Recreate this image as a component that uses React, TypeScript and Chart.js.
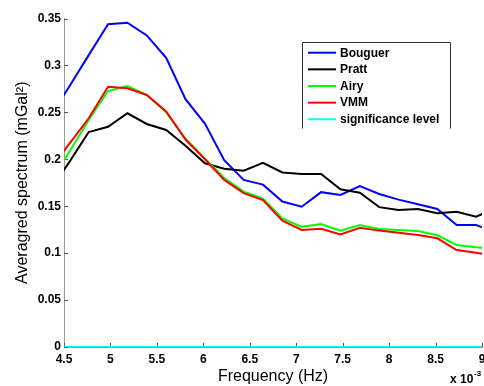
import React, { useEffect, useRef } from "react";
import { Chart, registerables } from "chart.js";

Chart.register(...registerables);

// Frequency (x 10^-3 Hz)
const freq = [4.349, 4.557, 4.766, 4.974, 5.183, 5.391, 5.6, 5.808, 6.017, 6.225, 6.434, 6.642, 6.851, 7.059, 7.268, 7.476, 7.685, 7.893, 8.102, 8.31, 8.519, 8.727, 8.936, 9.144];

const bouguer = [0.2445, 0.2776, 0.311, 0.344, 0.3455, 0.332, 0.308, 0.264, 0.238, 0.199, 0.178, 0.173, 0.155, 0.1495, 0.165, 0.162, 0.1715, 0.163, 0.157, 0.152, 0.147, 0.13, 0.13, 0.122];
const pratt = [0.167, 0.197, 0.229, 0.2347, 0.249, 0.2376, 0.2312, 0.2145, 0.1957, 0.19, 0.1878, 0.1963, 0.186, 0.1843, 0.1843, 0.168, 0.1644, 0.149, 0.146, 0.147, 0.1424, 0.144, 0.1388, 0.148];
const airy = [0.175, 0.208, 0.2418, 0.2727, 0.278, 0.2685, 0.25, 0.222, 0.201, 0.18, 0.1655, 0.158, 0.137, 0.128, 0.131, 0.124, 0.13, 0.1257, 0.1247, 0.1236, 0.119, 0.1087, 0.1062, 0.105];
const vmm = [0.189, 0.2165, 0.2437, 0.2773, 0.2756, 0.2685, 0.251, 0.221, 0.2, 0.178, 0.164, 0.1566, 0.1346, 0.1247, 0.126, 0.12, 0.127, 0.124, 0.1218, 0.1193, 0.1158, 0.1033, 0.1005, 0.097];

const sigFreq = [4.5, 9];
const sigLevel = [0, 0];

const seriesLabels = ["Bouguer", "Pratt", "Airy", "VMM", "significance level"];
const seriesColors = ["#0000ff", "#000000", "#00ff00", "#ff0000", "#00ffff"];

const xTitle = "Frequency (Hz)";
const yTitle = "Averagred spectrum (mGal\u00B2)";
const xExpBase = "x 10";
const xExpPow = "-3";

const FONT = '"Liberation Sans", Arial, Helvetica, sans-serif';

const fmt = (v: number) => String(Number(v.toFixed(4)));

export default function App() {
  const ref = useRef<HTMLCanvasElement>(null);

  useEffect(() => {
    const canvas = ref.current;
    if (!canvas) return;
    const pts = (xs: number[], ys: number[]) => xs.map((x, i) => ({ x, y: ys[i] }));
    const allSeries = [pts(freq, bouguer), pts(freq, pratt), pts(freq, airy), pts(freq, vmm), pts(sigFreq, sigLevel)];

    const extras = {
      id: "extras",
      beforeDatasetsDraw(chart: any) {
        const { ctx, chartArea } = chart;
        const xs = chart.scales.x;
        const ys = chart.scales.y;
        ctx.save();
        ctx.strokeStyle = "#555";
        ctx.lineWidth = 1;
        ctx.beginPath();
        ys.ticks.forEach((t: any) => {
          const py = Math.round(ys.getPixelForValue(t.value)) + 0.5;
          ctx.moveTo(chartArea.left, py);
          ctx.lineTo(chartArea.left + 4, py);
        });
        xs.ticks.forEach((t: any) => {
          const px = Math.round(xs.getPixelForValue(t.value)) + 0.5;
          ctx.moveTo(px, chartArea.bottom);
          ctx.lineTo(px, chartArea.bottom - 4);
        });
        ctx.stroke();
        ctx.restore();
      },
      afterDraw(chart: any) {
        const { ctx } = chart;
        ctx.save();
        // legend box
        const bx = 302.5, by = 42.5, bw = 148, bh = 86;
        ctx.fillStyle = "#fff";
        ctx.fillRect(bx, by, bw, bh);
        ctx.strokeStyle = "#333";
        ctx.lineWidth = 1;
        ctx.beginPath();
        ctx.moveTo(bx, by + bh);
        ctx.lineTo(bx, by);
        ctx.lineTo(bx + bw, by);
        ctx.lineTo(bx + bw, by + bh);
        ctx.stroke();
        ctx.font = "bold 12px " + FONT;
        ctx.textBaseline = "middle";
        ctx.textAlign = "left";
        chart.data.datasets.forEach((ds: any, i: number) => {
          const yy = 52.7 + i * 16.65;
          ctx.strokeStyle = ds.borderColor;
          ctx.lineWidth = 2;
          ctx.beginPath();
          ctx.moveTo(308, yy);
          ctx.lineTo(336, yy);
          ctx.stroke();
          ctx.fillStyle = "#000";
          ctx.fillText(ds.label, 340, yy + 0.5);
        });
        // exponent label
        ctx.fillStyle = "#000";
        ctx.textBaseline = "alphabetic";
        ctx.font = "bold 12px " + FONT;
        ctx.fillText(xExpBase, 450, 383);
        ctx.font = "bold 8px " + FONT;
        ctx.fillText(xExpPow, 474, 376);
        ctx.restore();
      },
    };

    const chart = new Chart(canvas, {
      type: "line",
      data: {
        datasets: allSeries.map((d, i) => ({
          label: seriesLabels[i],
          data: d,
          borderColor: seriesColors[i],
          backgroundColor: seriesColors[i],
          borderWidth: 2,
          pointRadius: 0,
          tension: 0,
          fill: false,
          order: 5 - i,
        })),
      },
      options: {
        responsive: false,
        animation: false,
        layout: { padding: { left: 0, right: 2, top: 18.5, bottom: 0 } },
        plugins: { legend: { display: false }, tooltip: { enabled: false } },
        scales: {
          x: {
            type: "linear",
            min: 4.5,
            max: 9,
            ticks: { stepSize: 0.5, color: "#000", padding: 5, maxRotation: 0, callback: (v: any) => fmt(Number(v)), font: { family: FONT, size: 12, weight: "bold" } },
            grid: { display: false, drawTicks: false },
            border: { display: true, color: "#999", width: 1 },
            title: { display: true, text: xTitle, color: "#000", padding: { top: 0, bottom: 0 }, font: { family: FONT, size: 16 } },
            afterFit(s: any) {
              s.height = 39;
              s.paddingLeft = 0;
              s.paddingRight = 0;
            },
          },
          y: {
            type: "linear",
            min: 0,
            max: 0.35,
            ticks: { stepSize: 0.05, color: "#000", padding: 3, callback: (v: any) => fmt(Number(v)), font: { family: FONT, size: 12, weight: "bold" } },
            grid: { display: false, drawTicks: false },
            border: { display: true, color: "#999", width: 1 },
            title: { display: true, text: yTitle, color: "#000", padding: { top: 13, bottom: 0 }, font: { family: FONT, size: 16 } },
            afterFit(s: any) {
              s.width = 64;
              s.paddingTop = 0;
              s.paddingBottom = 0;
            },
          },
        },
      } as any,
      plugins: [extras],
    });
    return () => chart.destroy();
  }, []);

  return (
    <div style={{ position: "absolute", left: 0, top: 0, width: 484, height: 386, background: "#fff" }}>
      <canvas ref={ref} width={484} height={386} style={{ display: "block", width: 484, height: 386 }} />
    </div>
  );
}
